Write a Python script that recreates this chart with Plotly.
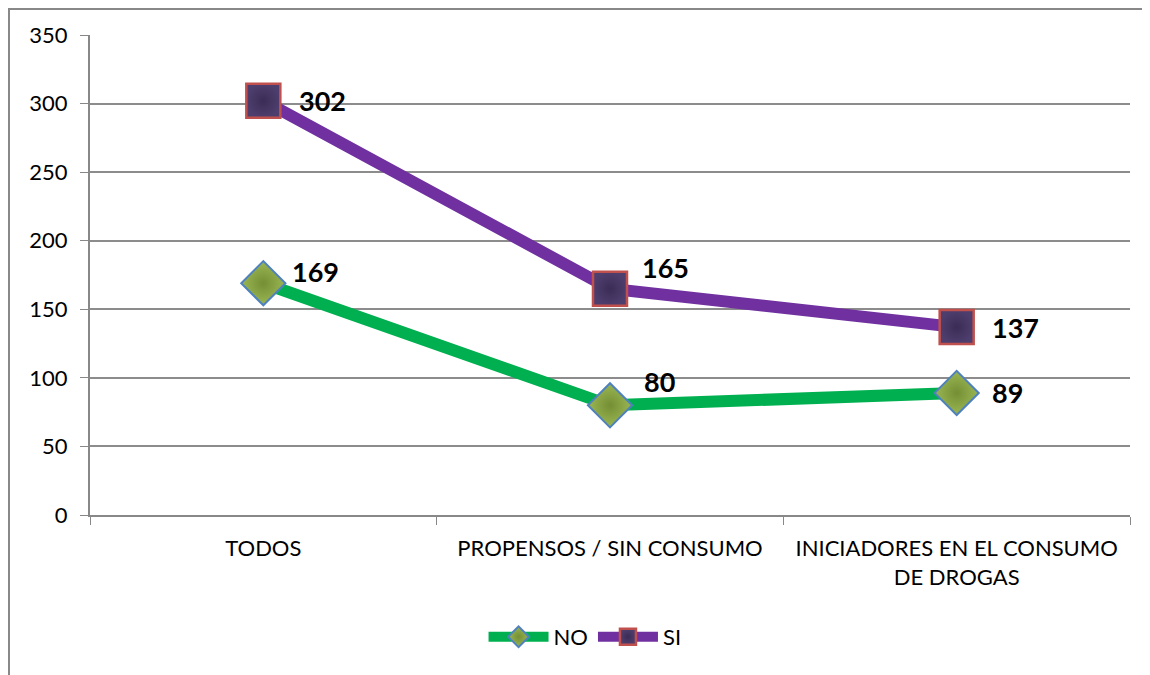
import plotly.graph_objects as go

categories = ["TODOS", "PROPENSOS / SIN CONSUMO", "INICIADORES EN EL CONSUMO<br>DE DROGAS"]
no_values = [169, 80, 89]
si_values = [302, 165, 137]

# label offsets (pixels) relative to each marker
no_label_shift = [(27, 12), (32, 24), (33, 0)]
si_label_shift = [(34, 0), (30, 21), (33, 0)]

font_family = "Lato, 'Open Sans', sans-serif"

fig = go.Figure()

fig.add_trace(go.Scatter(
    x=categories, y=no_values, name="NO", mode="lines+markers",
    line=dict(color="#00B050", width=12),
    marker=dict(symbol="diamond", size=34, color="#9AB653",
                line=dict(color="#4F81BD", width=2),
                gradient=dict(type="radial", color="#748F34")),
))
fig.add_trace(go.Scatter(
    x=categories, y=si_values, name="SI", mode="lines+markers",
    line=dict(color="#7030A0", width=12),
    marker=dict(symbol="square", size=34, color="#4E3E6E",
                line=dict(color="#C0504D", width=2.5),
                gradient=dict(type="radial", color="#3A2C55")),
))

for values, shifts in ((no_values, no_label_shift), (si_values, si_label_shift)):
    for cat, val, (dx, dy) in zip(categories, values, shifts):
        fig.add_annotation(x=cat, y=val, text=f"<b>{val}</b>", showarrow=False,
                           xanchor="left", yanchor="middle", xshift=dx, yshift=dy,
                           font=dict(size=27, color="black", family=font_family))

# outer chart border
fig.add_shape(type="rect", xref="paper", yref="paper",
              x0=-0.0779, x1=1.2, y0=-0.6, y1=1.054,
              line=dict(color="#888888", width=2), layer="below")

fig.update_layout(
    width=1150, height=675,
    margin=dict(l=82, r=28, t=27, b=168),
    plot_bgcolor="white", paper_bgcolor="white",
    font=dict(family=font_family, size=22, color="black"),
    showlegend=True,
    legend=dict(orientation="h", x=0.476, xanchor="center", y=-0.254, yanchor="middle",
                font=dict(size=22), itemwidth=60),
    xaxis=dict(type="category", showline=True, linecolor="#888888", linewidth=2,
               tickson="boundaries", ticks="outside", ticklen=8, tickcolor="#888888",
               showgrid=False, range=[-0.5, 2.5], ticklabelstandoff=13),
    yaxis=dict(range=[0, 350], dtick=50, showline=True, linecolor="#888888", linewidth=2,
               ticks="outside", ticklen=8, tickcolor="#888888",
               showgrid=True, gridcolor="#8C8C8C", gridwidth=2, zeroline=False,
               ticklabelstandoff=8),
)

fig.write_html("out.html")
